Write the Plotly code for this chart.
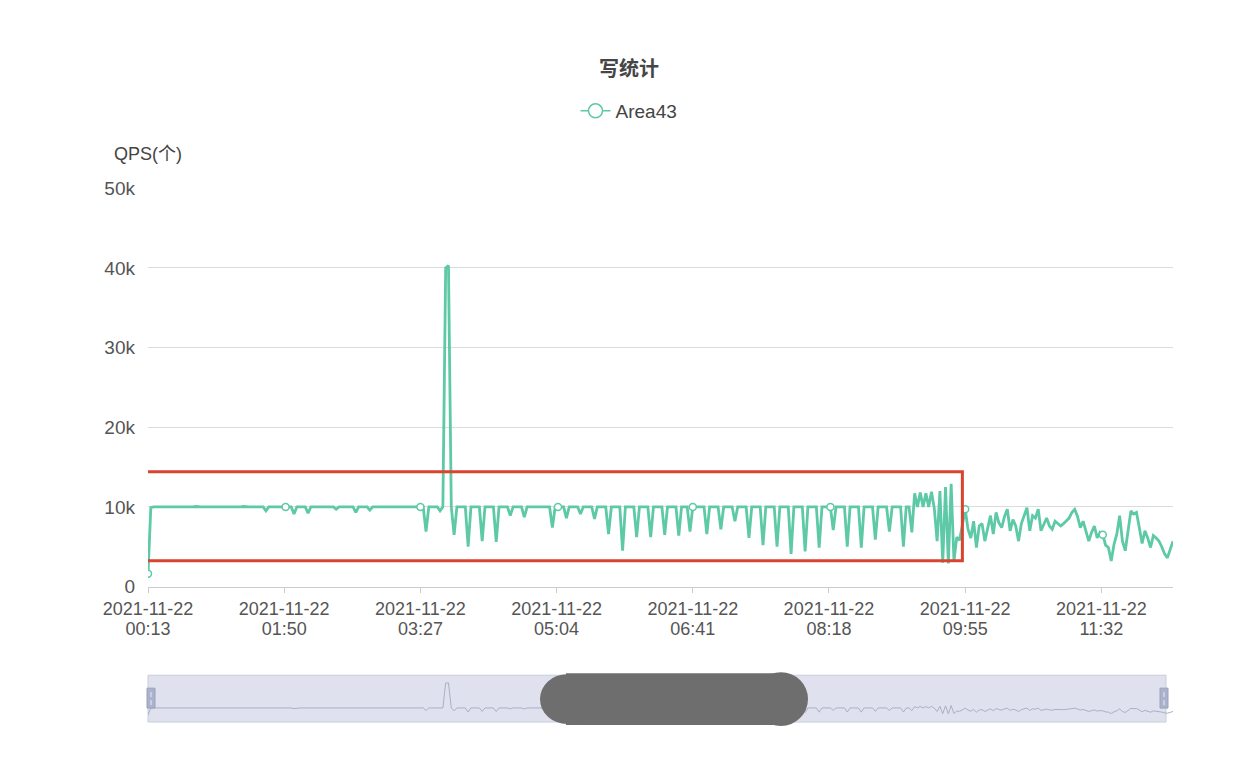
import pandas as pd
import plotly.graph_objects as go

# ---------------- data ----------------
start_time = "2021-11-22 00:13"
step = "2min"

qps_values = [
    1600, 9900, 10000, 10000, 10000, 10000, 9950, 10000, 10000, 10000,
    10000, 10000, 9950, 10000, 10000, 10000, 10000, 10050, 10000, 10000,
    10000, 10000, 9950, 10000, 10000, 10000, 10000, 10000, 10000, 9950,
    10000, 10000, 10000, 10000, 10050, 10000, 10000, 10000, 10000, 10000,
    10000, 10000, 9500, 10000, 10000, 10000, 10000, 10000, 10000, 10000,
    10000, 10000, 9100, 10000, 10000, 10000, 10000, 9200, 10000, 10000,
    10000, 10000, 10000, 10000, 10000, 10000, 10000, 9700, 10000, 10000,
    10000, 10000, 10000, 10000, 9300, 10000, 10000, 10000, 10000, 9600,
    10000, 10000, 10000, 10000, 10000, 10000, 10000, 10000, 10000, 10000,
    10000, 10000, 10000, 10000, 10000, 10000, 10000, 10000, 10000, 6900,
    10000, 10000, 10000, 10000, 9500, 10000, 40000, 40300, 10000, 6500,
    10000, 10000, 10000, 10000, 5000, 10000, 10000, 10000, 10000, 5700,
    10000, 10000, 10000, 10000, 5600, 10000, 10000, 10000, 10000, 8900,
    10000, 10000, 10000, 10000, 8700, 10000, 10000, 10000, 10000, 10000,
    10000, 10000, 10000, 10000, 7400, 10000, 10000, 10000, 10000, 8600,
    10000, 10000, 10000, 10000, 9100, 10000, 10000, 10000, 10000, 8500,
    10000, 10000, 10000, 10000, 6600, 10000, 10000, 10000, 10000, 4500,
    10000, 10000, 10000, 10000, 6200, 10000, 10000, 10000, 10000, 6200,
    10000, 10000, 10000, 10000, 6500, 10000, 10000, 10000, 10000, 6400,
    10000, 10000, 10000, 6900, 10000, 10000, 10000, 10000, 10000, 6600,
    10000, 10000, 10000, 10000, 7200, 10000, 10000, 10000, 10000, 8200,
    10000, 10000, 10000, 10000, 6100, 10000, 10000, 10000, 10000, 5200,
    10000, 10000, 10000, 10000, 5000, 10000, 10000, 10000, 10000, 4100,
    10000, 10000, 10000, 10000, 4400, 10000, 10000, 10000, 10000, 4900,
    10000, 10000, 10000, 10000, 7100, 10000, 10000, 10000, 10000, 5000,
    10000, 10000, 10000, 10000, 4900, 10000, 10000, 10000, 10000, 5900,
    10000, 10000, 10000, 10000, 6900, 10000, 10000, 10000, 10000, 5000,
    10000, 10000, 6800, 11700, 10000, 11800, 10000, 11700, 10000, 11900,
    9800, 5700, 12000, 3000, 12500, 2900, 12900, 3200, 6200, 5800,
    8000, 9700, 7200, 6100, 8200, 4900, 7600, 7900, 5700, 7500,
    8900, 6600, 9300, 8000, 7400, 8800, 9700, 7000, 8400, 7600,
    5700, 7900, 8800, 9900, 7000, 8900, 8600, 9700, 7000, 7800,
    8600, 7600, 7200, 8200, 7900, 7600, 7900, 8200, 8600, 9300,
    9700, 8800, 7400, 8200, 7000, 5700, 6800, 7600, 6100, 6800,
    6500, 5200, 4900, 3200, 5300, 6600, 8900, 5700, 4500, 6900,
    9500, 9100, 9300, 7400, 5400, 7000, 6100, 4900, 6400, 6100,
    5700, 5000, 4100, 3600, 4700, 5700,
]

times = pd.date_range(start_time, periods=len(qps_values), freq=step)

# data points drawn with a visible symbol (one near each axis label)
symbol_indices = [0, 49, 97, 146, 194, 243, 291, 340]

tick_times = ["2021-11-22 00:13", "2021-11-22 01:50", "2021-11-22 03:27",
              "2021-11-22 05:04", "2021-11-22 06:41", "2021-11-22 08:18",
              "2021-11-22 09:55", "2021-11-22 11:32"]
tick_dates = ["2021-11-22"] * 8
tick_clock = ["00:13", "01:50", "03:27", "05:04", "06:41", "08:18", "09:55", "11:32"]

y_ticks = [0, 10000, 20000, 30000, 40000, 50000]
y_tick_labels = ["0", "10k", "20k", "30k", "40k", "50k"]

series_name = "Area43"
title_text = "写统计"
y_name = "QPS(个)"

# highlight box (in data units)
box_x = ["2021-11-22 00:10:10", "2021-11-22 09:53"]
box_y = [3250, 14400]

# ---------------- style ----------------
GREEN = "#5ec9a6"
FONT = "Liberation Sans, Noto Sans CJK SC, sans-serif"
W, H = 1258, 776
ML, MR, MT, MB = 148, 85, 150, 50
plot_w = W - ML - MR
plot_h = H - MT - MB


def px_x(px):
    return (px - ML) / plot_w


def px_y(py):
    return (H - MB - py) / plot_h


fig = go.Figure()

# main line
fig.add_trace(go.Scatter(
    x=times, y=qps_values, mode="lines", name=series_name,
    line=dict(color=GREEN, width=2.8), showlegend=False,
    xaxis="x", yaxis="y", hoverinfo="x+y",
))
# symbols on selected data points
fig.add_trace(go.Scatter(
    x=[times[i] for i in symbol_indices],
    y=[qps_values[i] for i in symbol_indices],
    mode="markers", showlegend=False,
    marker=dict(symbol="circle", size=7, color="white",
                line=dict(color=GREEN, width=1.5)),
    xaxis="x", yaxis="y",
))
# legend entry
fig.add_trace(go.Scatter(
    x=[None], y=[None], mode="lines+markers", name=series_name,
    line=dict(color=GREEN, width=1.5),
    marker=dict(symbol="circle", size=14, color="white",
                line=dict(color=GREEN, width=1.5)),
    xaxis="x", yaxis="y",
))
# data zoom preview line
fig.add_trace(go.Scatter(
    x=times, y=qps_values, mode="lines", showlegend=False,
    line=dict(color="#a9afc4", width=1),
    xaxis="x2", yaxis="y2", hoverinfo="skip",
))
# invisible trace to carry the second tick-label row
fig.add_trace(go.Scatter(
    x=[times[0]], y=[None], mode="lines", showlegend=False,
    xaxis="x3", yaxis="y", hoverinfo="skip",
))

shapes = []
# slider background
shapes.append(dict(type="rect", xref="paper", yref="paper",
                   x0=px_x(148), x1=px_x(1166), y0=px_y(722), y1=px_y(675),
                   fillcolor="#dfe2ee", line=dict(color="#c8cddc", width=1),
                   layer="below"))
# slider handles
for hx in (147, 1160):
    shapes.append(dict(type="rect", xref="paper", yref="paper",
                       x0=px_x(hx), x1=px_x(hx + 8), y0=px_y(708), y1=px_y(688),
                       fillcolor="#aab3cb", line=dict(color="#9aa3bb", width=1)))
    shapes.append(dict(type="line", xref="paper", yref="paper",
                       x0=px_x(hx + 4), x1=px_x(hx + 4), y0=px_y(705), y1=px_y(700),
                       line=dict(color="#e8ebf3", width=1)))
    shapes.append(dict(type="line", xref="paper", yref="paper",
                       x0=px_x(hx + 4), x1=px_x(hx + 4), y0=px_y(697), y1=px_y(692),
                       line=dict(color="#e8ebf3", width=1)))
# redaction blob over the slider
shapes.append(dict(type="rect", xref="paper", yref="paper",
                   x0=px_x(566), x1=px_x(782), y0=px_y(725), y1=px_y(673),
                   fillcolor="#6e6e6e", line=dict(width=0)))
shapes.append(dict(type="circle", xref="paper", yref="paper",
                   x0=px_x(540), x1=px_x(594), y0=px_y(724), y1=px_y(674),
                   fillcolor="#6e6e6e", line=dict(width=0)))
shapes.append(dict(type="circle", xref="paper", yref="paper",
                   x0=px_x(754), x1=px_x(808), y0=px_y(726), y1=px_y(672),
                   fillcolor="#6e6e6e", line=dict(width=0)))
# red highlight box
shapes.append(dict(type="rect", xref="x", yref="y",
                   x0=box_x[0], x1=box_x[1], y0=box_y[0], y1=box_y[1],
                   line=dict(color="#d9432f", width=3), fillcolor="rgba(0,0,0,0)"))

fig.update_layout(
    width=W, height=H,
    margin=dict(l=ML, r=MR, t=MT, b=MB),
    paper_bgcolor="white", plot_bgcolor="white",
    font=dict(family=FONT, size=18, color="#555"),
    title=dict(text=f"<b>{title_text}</b>", x=0.5, xref="container", xanchor="center",
               y=1 - 69 / H, yref="container", yanchor="middle",
               font=dict(family=FONT, size=20, color="#464646")),
    legend=dict(orientation="h", x=0.5, xref="container", xanchor="center",
                y=1 - 111 / H, yref="container", yanchor="middle",
                font=dict(family=FONT, size=19, color="#444"),
                bgcolor="rgba(0,0,0,0)"),
    xaxis=dict(
        domain=[0, 1], anchor="y", type="date",
        range=[times[0], times[-1]],
        tickvals=tick_times, ticktext=tick_dates,
        ticks="outside", ticklen=5, tickcolor="#cccccc",
        showgrid=False, showline=True, linecolor="#cccccc", linewidth=1,
        zeroline=False, tickfont=dict(size=18, color="#555"),
        ticklabelstandoff=1,
    ),
    xaxis3=dict(
        overlaying="x", anchor="y", side="bottom", type="date",
        range=[times[0], times[-1]],
        tickvals=tick_times, ticktext=tick_clock,
        ticks="", showgrid=False, showline=False, zeroline=False,
        tickfont=dict(size=18, color="#555"),
        ticklabelstandoff=29,
    ),
    yaxis=dict(
        domain=[px_y(586), px_y(186)], anchor="x",
        range=[0, 50000], tickvals=y_ticks, ticktext=y_tick_labels,
        showgrid=True, gridcolor="#dcdcdc", gridwidth=1,
        zeroline=False, showline=False, ticks="",
        ticklabelstandoff=12, tickfont=dict(size=19, color="#555"),
    ),
    xaxis2=dict(
        domain=[0, 1], anchor="y2", type="date",
        range=[times[0], times[-1]], visible=False,
    ),
    yaxis2=dict(
        domain=[px_y(722), px_y(675)], anchor="x2",
        range=[-7000, 49500], visible=False,
    ),
    shapes=shapes,
    annotations=[dict(text=y_name, xref="paper", yref="paper",
                      x=0, xanchor="center", y=px_y(152), yanchor="middle",
                      showarrow=False, font=dict(family=FONT, size=18, color="#444"))],
    hovermode="closest",
)

fig.write_html("out.html")
